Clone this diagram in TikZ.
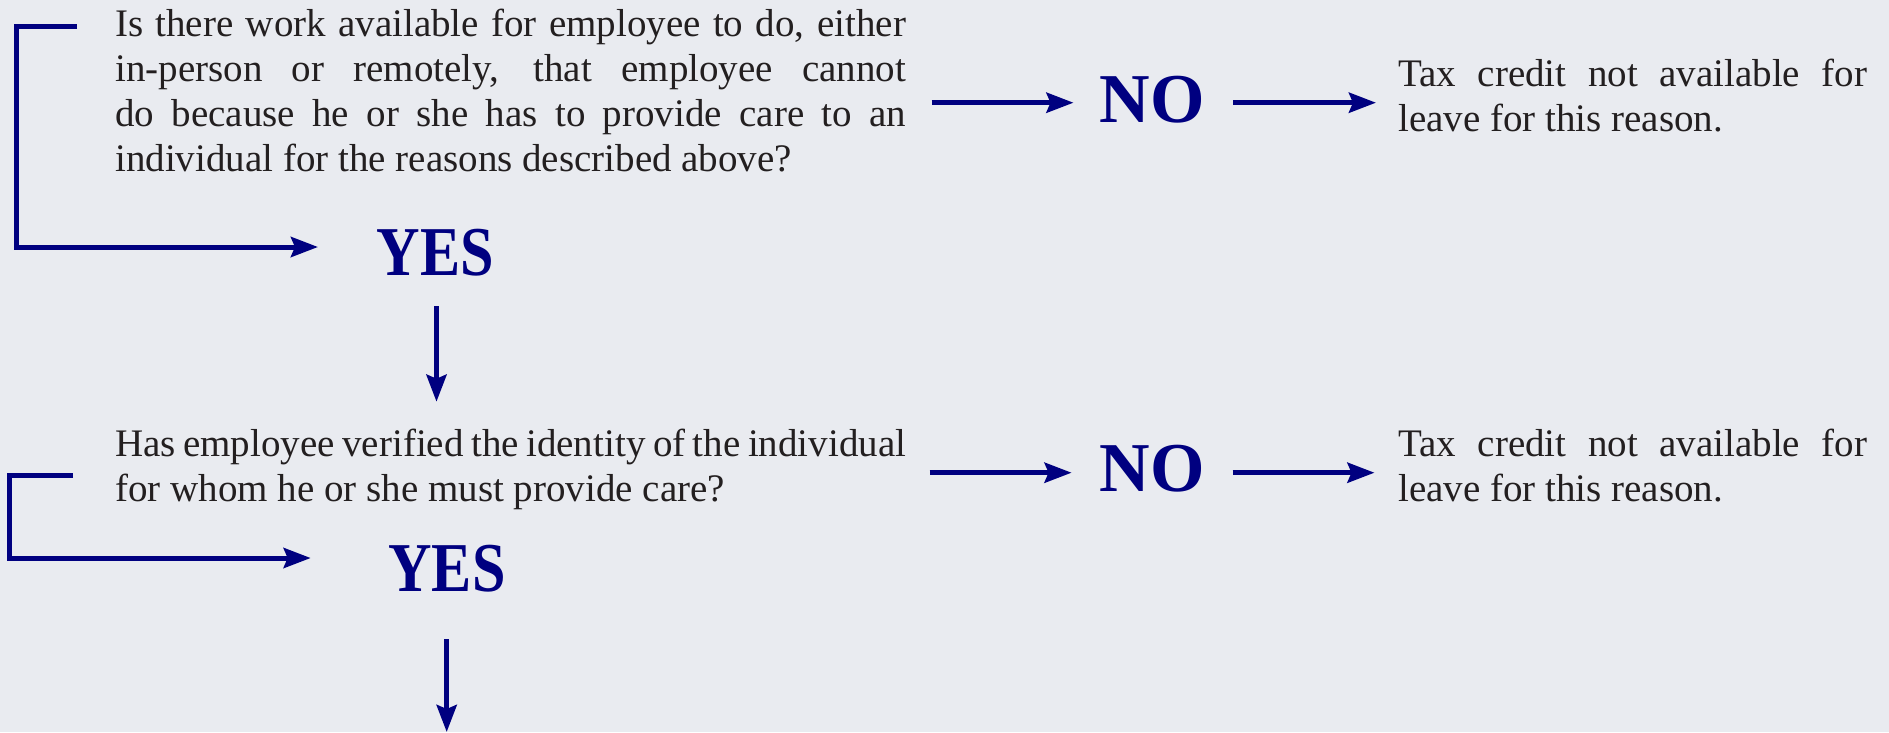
\documentclass[tikz,border=0pt]{standalone}
\usepackage{fontspec}
\setmainfont{Liberation Serif}
\usepackage{graphicx}
\usetikzlibrary{arrows.meta}
\definecolor{navy}{RGB}{0,0,128}
\definecolor{bg}{RGB}{233,235,240}
\definecolor{ink}{RGB}{35,31,32}
\newcommand\jline[2]{\hbox to #1pt{#2}}
\newcommand\nline[1]{\hbox{#1}}
\tikzset{
  body/.style={inner sep=0pt, anchor=base west, text=ink, font=\fontsize{39}{45}\selectfont},
  answer/.style={inner sep=0pt, anchor=base, text=navy, font=\fontsize{70}{70}\selectfont\bfseries},
  link/.style={draw=navy, line width=5pt, line join=miter, -{Stealth[length=27pt,width=20pt,inset=4pt]}}
}
\begin{document}
\begin{tikzpicture}[x=1pt,y=-1pt]
\useasboundingbox (0,0) rectangle (1889,732);
\fill[bg] (0,0) rectangle (1889,732);

% question 1
\node[body] (q1) at (115,36) {\vtop{\baselineskip=45pt\lineskiplimit=-100pt
  \jline{791}{Is there work available for employee to do, either}
  \jline{791}{in-person or remotely, that employee cannot}
  \jline{791}{do because he or she has to provide care to an}
  \nline{individual for the reasons described above?}}};
\node[answer] (no1) at (1152,122) {NO};
\node[body] (t1) at (1398,86) {\vtop{\baselineskip=45pt\lineskiplimit=-100pt
  \jline{469}{Tax credit not available for}
  \nline{leave for this reason.}}};
\node[answer] (yes1) at (435.5,275) {\scalebox{0.86}[1]{YES}};

% question 2
\node[body] (q2) at (115,456.7) {\vtop{\baselineskip=45pt\lineskiplimit=-100pt
  \jline{791}{Has employee verified the identity of the individual}
  \nline{for whom he or she must provide care?}}};
\node[answer] (no2) at (1152,491.5) {NO};
\node[body] (t2) at (1398,456.7) {\vtop{\baselineskip=45pt\lineskiplimit=-100pt
  \jline{469}{Tax credit not available for}
  \nline{leave for this reason.}}};
\node[answer] (yes2) at (447,591.7) {\scalebox{0.86}[1]{YES}};

% connector end points
\coordinate (a1s) at (931.5,102.7);
\coordinate (a1e) at (1073.5,102.7);
\coordinate (a2s) at (1233,102.7);
\coordinate (a2e) at (1376,102.7);
\coordinate (b1s) at (77,26);
\coordinate (b1c) at (16,26);
\coordinate (b1d) at (16,247);
\coordinate (b1e) at (318,247);
\coordinate (d1s) at (436.5,306);
\coordinate (d1e) at (436.5,401.7);

\coordinate (a3s) at (929.6,472.7);
\coordinate (a3e) at (1071.6,472.7);
\coordinate (a4s) at (1232.5,472.7);
\coordinate (a4e) at (1374.5,472.7);
\coordinate (b2s) at (73,475);
\coordinate (b2c) at (9,475);
\coordinate (b2d) at (9,558);
\coordinate (b2e) at (310.7,558);
\coordinate (d2s) at (446.7,639);
\coordinate (d2e) at (446.7,732);

\draw[link] (a1s) -- (a1e);
\draw[link] (a2s) -- (a2e);
\draw[link] (b1s) -- (b1c) -- (b1d) -- (b1e);
\draw[link] (d1s) -- (d1e);
\draw[link] (a3s) -- (a3e);
\draw[link] (a4s) -- (a4e);
\draw[link] (b2s) -- (b2c) -- (b2d) -- (b2e);
\draw[link] (d2s) -- (d2e);
\end{tikzpicture}
\end{document}
